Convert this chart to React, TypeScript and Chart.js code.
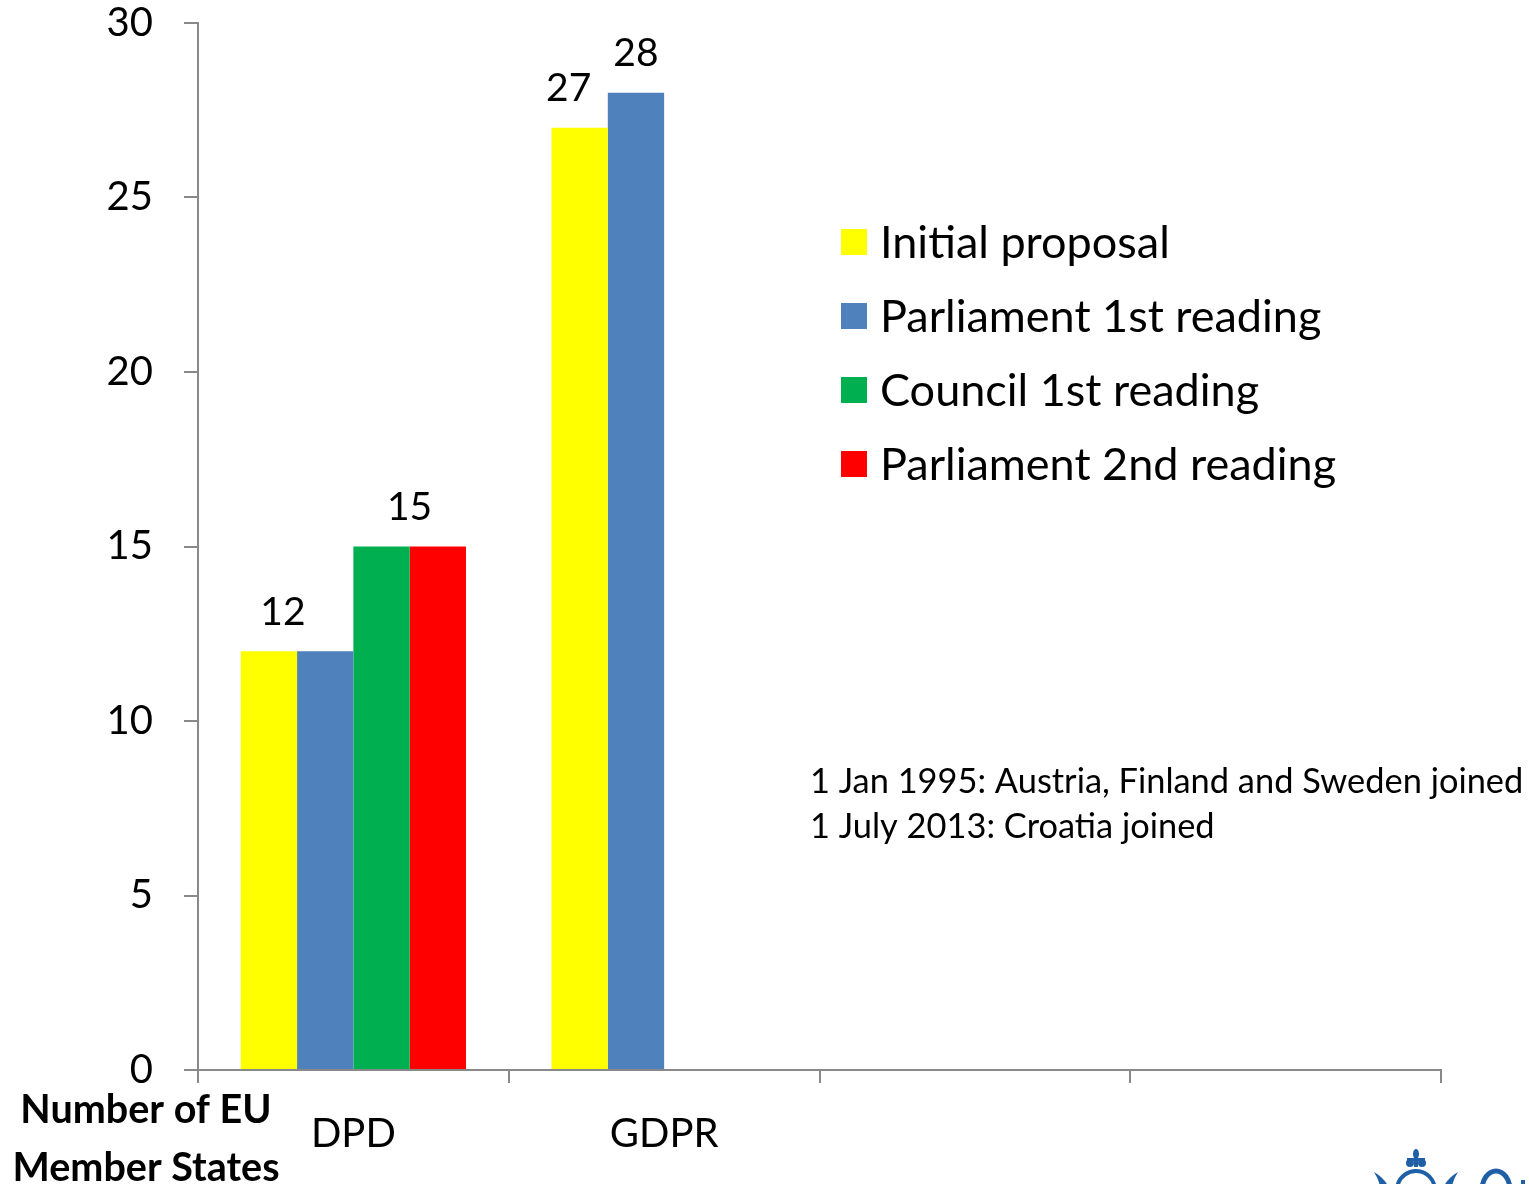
import React, { useEffect, useRef } from "react";
import { Chart, registerables } from "chart.js";
Chart.register(...registerables);

// ---- data ----
const categories = ["DPD", "GDPR", "", ""];
const seriesNames = [
  "Initial proposal",
  "Parliament 1st reading",
  "Council 1st reading",
  "Parliament 2nd reading",
];
const initialProposal = [12, 27, null, null];
const parliament1st = [12, 28, null, null];
const council1st = [15, null, null, null];
const parliament2nd = [15, null, null, null];
const yMin = 0;
const yMax = 30;
const yStep = 5;
const valueLabels: (string | null)[][] = [
  ["12", "27", null, null],
  [null, "28", null, null],
  ["15", null, null, null],
  [null, null, null, null],
];
const notes = [
  "1 Jan 1995: Austria, Finland and Sweden joined",
  "1 July 2013: Croatia joined",
];
const axisCaption = ["Number of EU", "Member States"];

// ---- styles ----
const colors = ["#FFFF00", "#4F81BD", "#00B050", "#FF0000"];
const labelShiftX: number[][] = [
  [14, -11, 0, 0],
  [0, 0, 0, 0],
  [28, 0, 0, 0],
  [0, 0, 0, 0],
];
const FONT = "Lato";
const AXIS_GRAY = "#898989";
const LOGO_BLUE = "#1F5FA6";

const overlayPlugin = {
  id: "overlay",
  afterDatasetsDraw(chart: any) {
    const ctx = chart.ctx;
    ctx.save();
    ctx.fillStyle = "#000";
    // value labels
    ctx.font = `39px ${FONT}`;
    ctx.textAlign = "center";
    ctx.textBaseline = "middle";
    chart.data.datasets.forEach((ds: any, i: number) => {
      const meta = chart.getDatasetMeta(i);
      meta.data.forEach((el: any, j: number) => {
        const t = valueLabels[i][j];
        if (t == null) return;
        ctx.fillText(t, el.x + labelShiftX[i][j], el.y - 39);
      });
    });
    // legend
    ctx.textAlign = "left";
    ctx.font = `45px ${FONT}`;
    chart.data.datasets.forEach((ds: any, i: number) => {
      const y = 242 + i * 74;
      ctx.fillStyle = ds.backgroundColor;
      ctx.fillRect(841, y - 13, 26, 26);
      ctx.fillStyle = "#000";
      ctx.fillText(ds.label, 880, y + 1);
    });
    // notes
    ctx.font = `34.4px ${FONT}`;
    notes.forEach((n, k) => ctx.fillText(n, 810, 782 + k * 45));
    // axis caption
    ctx.textAlign = "center";
    ctx.font = `bold 39.5px ${FONT}`;
    axisCaption.forEach((n, k) => ctx.fillText(n, 146, 1110 + k * 58));

    // partial logo (bottom right, cropped by the page edge)
    ctx.fillStyle = LOGO_BLUE;
    ctx.strokeStyle = LOGO_BLUE;
    // fleur-de-lis
    ctx.beginPath();
    ctx.ellipse(1416, 1154, 3, 5, 0, 0, Math.PI * 2);
    ctx.fill();
    ctx.fillRect(1407, 1158, 18, 3);
    ctx.beginPath();
    ctx.arc(1410, 1163, 4, 0, Math.PI * 2);
    ctx.arc(1422, 1163, 4, 0, Math.PI * 2);
    ctx.fill();
    ctx.fillRect(1414, 1158, 4, 9);
    // ring
    ctx.lineWidth = 4;
    ctx.beginPath();
    ctx.arc(1416, 1190, 19, Math.PI * 1.05, Math.PI * 1.95);
    ctx.stroke();
    // leaves
    ctx.beginPath();
    ctx.moveTo(1374, 1172);
    ctx.quadraticCurveTo(1384, 1178, 1388, 1186);
    ctx.lineTo(1380, 1186);
    ctx.quadraticCurveTo(1378, 1178, 1374, 1172);
    ctx.fill();
    ctx.beginPath();
    ctx.moveTo(1458, 1172);
    ctx.quadraticCurveTo(1448, 1178, 1444, 1186);
    ctx.lineTo(1452, 1186);
    ctx.quadraticCurveTo(1454, 1178, 1458, 1172);
    ctx.fill();
    // letter O
    ctx.lineWidth = 5;
    ctx.beginPath();
    ctx.ellipse(1496, 1190, 14, 19, 0, Math.PI, Math.PI * 2);
    ctx.stroke();
    ctx.fillRect(1521, 1180, 4, 4);
    ctx.restore();
  },
};

export default function App() {
  const ref = useRef<HTMLCanvasElement>(null);
  useEffect(() => {
    if (!ref.current) return;
    const series = [initialProposal, parliament1st, council1st, parliament2nd];
    const chart = new Chart(ref.current, {
      type: "bar",
      data: {
        labels: categories,
        datasets: series.map((d, i) => ({
          label: seriesNames[i],
          data: d,
          backgroundColor: colors[i],
          borderWidth: 0,
          barPercentage: 1,
          categoryPercentage: 0.725,
        })),
      },
      options: {
        responsive: false,
        animation: false,
        devicePixelRatio: 1,
        layout: { padding: { left: 0, right: 88, top: 23, bottom: 0 } },
        plugins: {
          legend: { display: false },
          tooltip: { enabled: false },
          title: { display: false },
        },
        scales: {
          x: {
            grid: {
              display: true,
              drawOnChartArea: false,
              drawTicks: true,
              tickLength: 13,
              color: AXIS_GRAY,
              lineWidth: 2,
              offset: true,
            },
            border: { display: true, color: AXIS_GRAY, width: 2 },
            ticks: {
              color: "#000",
              font: { family: FONT, size: 40 },
              padding: 27,
              maxRotation: 0,
              autoSkip: false,
            },
            afterFit: (s: any) => {
              s.height = 114;
              s.paddingLeft = 0;
              s.paddingRight = 0;
            },
          },
          y: {
            min: yMin,
            max: yMax,
            grid: {
              display: true,
              drawOnChartArea: false,
              drawTicks: true,
              tickLength: 14,
              color: AXIS_GRAY,
              lineWidth: 2,
            },
            border: { display: true, color: AXIS_GRAY, width: 2 },
            ticks: {
              stepSize: yStep,
              color: "#000",
              font: { family: FONT, size: 40 },
              padding: 31,
            },
            afterFit: (s: any) => {
              s.width = 198;
              s.paddingTop = 0;
              s.paddingBottom = 0;
            },
          },
        },
      },
      plugins: [overlayPlugin],
    });
    return () => chart.destroy();
  }, []);
  return (
    <div style={{ position: "absolute", left: 0, top: 0, width: 1529, height: 1184, background: "#fff" }}>
      <canvas ref={ref} width={1529} height={1184} style={{ width: 1529, height: 1184, display: "block" }} />
    </div>
  );
}
